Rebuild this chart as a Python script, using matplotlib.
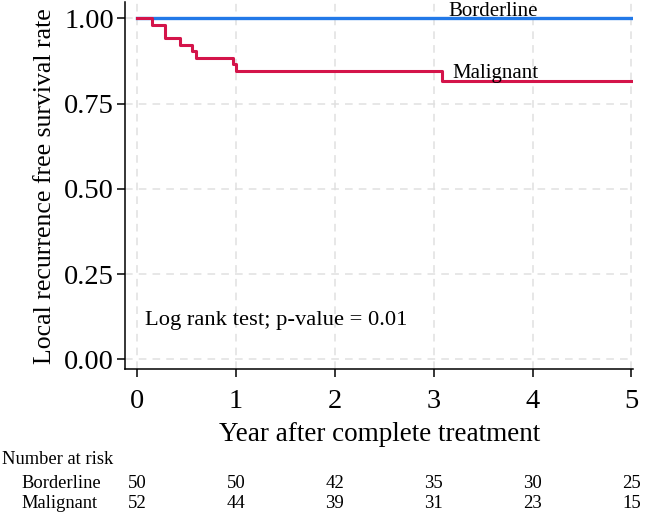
import matplotlib.pyplot as plt

# Kaplan-Meier steps
border_times = [0, 5]
border_surv = [1.0, 1.0]
mal_times = [0, 0.15, 0.28, 0.44, 0.56, 0.60, 0.97, 1.00, 3.08, 5]
mal_surv = [1.0, 0.981, 0.942, 0.923, 0.904, 0.885, 0.865, 0.846, 0.817, 0.817]

risk_times = [0, 1, 2, 3, 4, 5]
risk_border = [50, 50, 42, 35, 30, 25]
risk_mal = [52, 44, 39, 31, 23, 15]

x_ticks = [0, 1, 2, 3, 4, 5]
y_ticks = [0.0, 0.25, 0.5, 0.75, 1.0]

plt.rcParams['font.family'] = ['Liberation Serif', 'DejaVu Serif']

blue = '#2279e8'
red = '#d4144a'

fig = plt.figure(figsize=(6.45, 5.12), dpi=100)
ax = fig.add_axes([0.1938, 0.2787, 0.7882, 0.7174])

ax.step(border_times, border_surv, where='post', color=blue, lw=2.4, zorder=3)
ax.step(mal_times, mal_surv, where='post', color=red, lw=2.2, zorder=3)

ax.set_xlim(-0.12, 5.02)
ax.set_ylim(-0.029, 1.048)
ax.set_xticks(x_ticks)
ax.set_xticklabels([str(t) for t in x_ticks])
ax.set_yticks(y_ticks)
ax.set_yticklabels([f'{v:.2f}' for v in y_ticks])
ax.tick_params(axis='both', direction='out', length=6, width=1.1, labelsize=20.5)
ax.tick_params(axis='x', pad=8)
ax.tick_params(axis='y', pad=2)

ax.grid(True, color='#e0e0e0', linestyle=(0, (5, 4)), lw=1.1)
ax.set_axisbelow(True)
for side in ['top', 'right']:
    ax.spines[side].set_visible(False)
for side in ['left', 'bottom']:
    ax.spines[side].set_linewidth(1.1)

ax.set_ylabel('Local recurrence free survival rate', fontsize=18.5, labelpad=6)
ax.set_xlabel('Year after complete treatment', fontsize=19.5, labelpad=6)

ax.text(3.145, 1.006, 'Borderline', fontsize=15, ha='left', va='baseline')
ax.text(3.185, 0.824, 'Malignant', fontsize=15, ha='left', va='baseline')
ax.text(0.08, 0.115, 'Log rank test; p-value = 0.01', fontsize=16.2, ha='left', va='center')

# number at risk table
trans = ax.get_xaxis_transform()
fig.text(2 / 645, 1 - 460 / 512, 'Number at risk', fontsize=13.3, ha='left', va='center')
fig.text(21 / 645, 1 - 483 / 512, 'Borderline', fontsize=13.3, ha='left', va='center')
fig.text(21 / 645, 1 - 503 / 512, 'Malignant', fontsize=13.3, ha='left', va='center')
for t, nb, nm in zip(risk_times, risk_border, risk_mal):
    ax.text(t, -(483 - 369.3) / 367.3, str(nb), transform=trans, fontsize=13.5,
            ha='center', va='center', clip_on=False)
    ax.text(t, -(503 - 369.3) / 367.3, str(nm), transform=trans, fontsize=13.5,
            ha='center', va='center', clip_on=False)

fig.savefig('out.png', dpi=100)
